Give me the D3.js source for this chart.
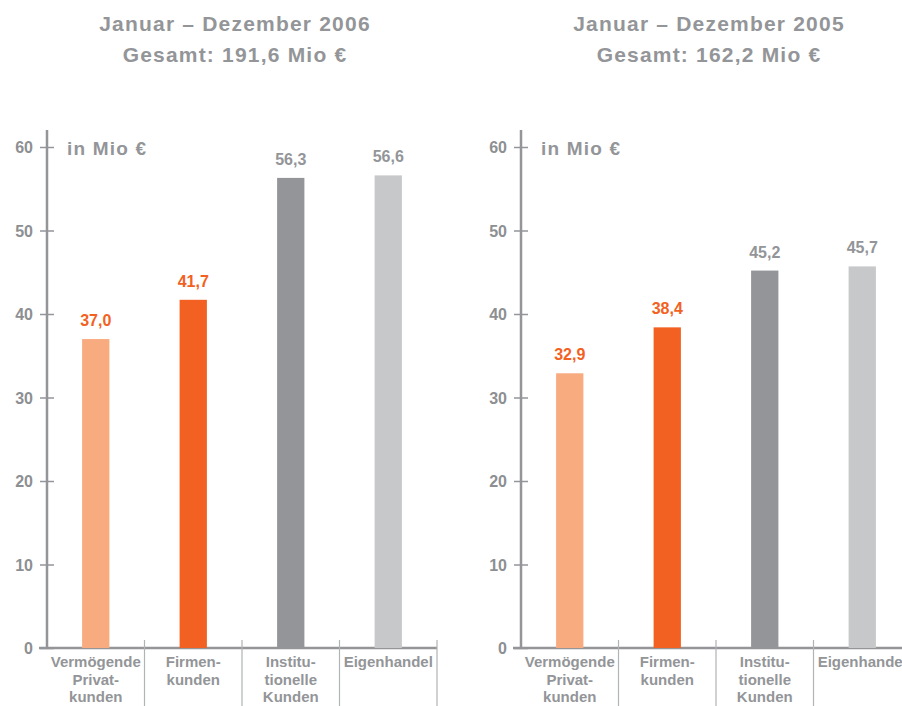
<!DOCTYPE html>
<html>
<head>
<meta charset="utf-8">
<script src="https://cdn.jsdelivr.net/npm/d3@7"></script>
<style>
  body { margin: 0; background: #fff; }
  svg text { font-family: "Liberation Sans", Arial, sans-serif; font-weight: bold; fill: #939598; }
</style>
</head>
<body>
<div id="chart"></div>
<script>
// data
const categories = ["Vermögende Privat- kunden", "Firmen- kunden", "Institu- tionelle Kunden", "Eigenhandel"];
const categoryLines = [["Vermögende", "Privat-", "kunden"], ["Firmen-", "kunden"], ["Institu-", "tionelle", "Kunden"], ["Eigenhandel"]];
const values2006 = [37.0, 41.7, 56.3, 56.6];
const values2005 = [32.9, 38.4, 45.2, 45.7];
const titles = ["Januar – Dezember 2006", "Januar – Dezember 2005"];
const totals = ["Gesamt: 191,6 Mio €", "Gesamt: 162,2 Mio €"];
const yTicks = [0, 10, 20, 30, 40, 50, 60];

const barColors = ["#f9ab80", "#f26122", "#939598", "#c7c8ca"];
const labelColors = ["#f26122", "#f26122", "#939598", "#939598"];

const svg = d3.select("#chart").append("svg")
    .attr("width", 902)
    .attr("height", 706)

var yScale = d3.scaleLinear().domain([0, 60]).range([648, 147])

function fmt(v) { return d3.format(".1f")(v).replace(".", ",") }

function drawPanel(offset, title, total, values) {
    const g = svg.append("g").attr("transform", "translate(" + offset + ",0)")
    const axisX = 47

    var xScale = d3.scaleBand()
        .domain(categories)
        .range([axisX, 437])
        .padding(0)

    // titles
    g.append("text").attr("x", 235).attr("y", 31)
        .attr("text-anchor", "middle").style("font-size", "21px").style("letter-spacing", "1.2px")
        .text(title)
    g.append("text").attr("x", 235).attr("y", 62)
        .attr("text-anchor", "middle").style("font-size", "21px").style("letter-spacing", "1.2px")
        .text(total)

    // y axis
    var yAxis = g.append("g")
        .attr("transform", "translate(" + axisX + ",0)")
        .call(d3.axisLeft(yScale).tickValues(yTicks).tickSize(7).tickPadding(7))
    yAxis.select(".domain").remove()
    yAxis.selectAll(".tick line").attr("x1", 7).attr("stroke", "#939598").attr("stroke-width", 1.5)
    yAxis.selectAll(".tick text").style("font-size", "16px").style("fill", "#8d8f92").attr("dy", "0.35em")

    g.append("line")
        .attr("x1", axisX).attr("x2", axisX)
        .attr("y1", 130).attr("y2", yScale(0))
        .attr("stroke", "#939598").attr("stroke-width", 2.5)
    g.append("line")
        .attr("x1", axisX - 8).attr("x2", 437)
        .attr("y1", yScale(0)).attr("y2", yScale(0))
        .attr("stroke", "#939598").attr("stroke-width", 2.5)

    g.append("text").attr("x", 67).attr("y", 155)
        .style("font-size", "19px").style("letter-spacing", "1.2px")
        .text("in Mio €")

    // separators
    g.selectAll(".sep").data(categories).enter()
        .append("line")
        .attr("x1", d => xScale(d) + xScale.bandwidth())
        .attr("x2", d => xScale(d) + xScale.bandwidth())
        .attr("y1", 640).attr("y2", 706)
        .attr("stroke", "#b1b3b5").attr("stroke-width", 1.2)

    const barW = xScale.bandwidth() * 0.28
    g.selectAll("rect").data(values).enter()
        .append("rect")
        .attr("x", (d, i) => xScale(categories[i]) + xScale.bandwidth() / 2 - barW / 2)
        .attr("y", d => yScale(d))
        .attr("width", barW)
        .attr("height", d => yScale(0) - yScale(d))
        .attr("fill", (d, i) => barColors[i])

    g.selectAll(".val").data(values).enter()
        .append("text")
        .attr("class", "val")
        .attr("x", (d, i) => xScale(categories[i]) + xScale.bandwidth() / 2)
        .attr("y", d => yScale(d) - 13)
        .attr("text-anchor", "middle")
        .style("font-size", "16px")
        .style("fill", (d, i) => labelColors[i])
        .text(d => fmt(d))

    // category labels
    categoryLines.forEach(function(lines, i) {
        var t = g.append("text")
            .attr("text-anchor", "middle")
            .style("font-size", "15px")
        lines.forEach(function(l, j) {
            t.append("tspan")
                .attr("x", xScale(categories[i]) + xScale.bandwidth() / 2)
                .attr("y", 667 + j * 17.5)
                .text(l)
        })
    })
}

drawPanel(0, titles[0], totals[0], values2006)
drawPanel(474, titles[1], totals[1], values2005)
</script>
</body>
</html>
